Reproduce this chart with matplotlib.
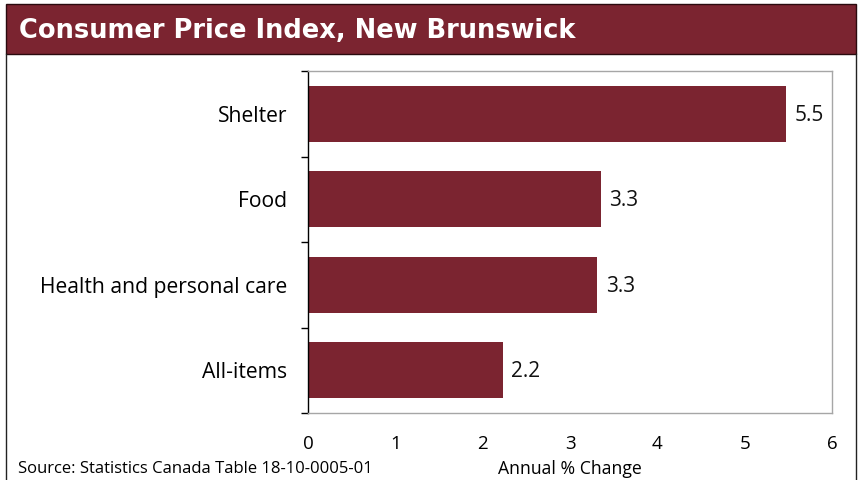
import matplotlib
matplotlib.use("Agg")
import matplotlib.pyplot as plt
from matplotlib.patches import Rectangle
from matplotlib.lines import Line2D

categories = ["All-items", "Health and personal care", "Food", "Shelter"]
values = [2.23, 3.31, 3.35, 5.47]
labels = ["2.2", "3.3", "3.3", "5.5"]
xticks = [0, 1, 2, 3, 4, 5, 6]

BAR = "#7B2430"
plt.rcParams['font.family'] = ['Open Sans', 'DejaVu Sans']

W, H = 858, 480
fig = plt.figure(figsize=(W/100, H/100), dpi=100)

# title band
fig.patches.append(Rectangle((6/W, 1 - 54/H), (856-6)/W, 50/H, transform=fig.transFigure,
                             facecolor=BAR, edgecolor="#2a0a0e", linewidth=1, zorder=0))
# outer border lines
fig.add_artist(Line2D([6/W, 6/W], [0, 1 - 54/H], transform=fig.transFigure, color="#222222", lw=1))
fig.add_artist(Line2D([856/W, 856/W], [0, 1 - 54/H], transform=fig.transFigure, color="#222222", lw=1))
fig.text(19/W, 1 - 31/H, "Consumer Price Index, New Brunswick", color="white",
         fontsize=18.5, fontweight="bold", va="center", ha="left", family="DejaVu Sans")

ax = fig.add_axes([308/W, 1 - 413/H, (832-308)/W, (413-71)/H])
y = list(range(len(categories)))
bars = ax.barh(y, values, height=0.66, color=BAR)
for yi, v, lab in zip(y, values, labels):
    ax.text(v + 0.1, yi - 0.02, lab, va="center", ha="left", fontsize=15, color="#111111")

ax.set_ylim(-0.5, len(categories) - 0.5)
ax.set_xlim(0, 6)
ax.set_xticks(xticks)
ax.set_xticklabels([str(t) for t in xticks], fontsize=13.5)
ax.tick_params(axis="x", length=0, pad=16)
ax.set_yticks(y)
ax.set_yticklabels(categories, fontsize=15.2)
ax.tick_params(axis="y", which="major", length=0, pad=15)
ax.set_yticks([i - 0.5 for i in range(len(categories) + 1)], minor=True)
ax.tick_params(axis="y", which="minor", length=5, width=1, color="black")
for s in ["top", "right", "bottom"]:
    ax.spines[s].set_color("#a6a6a6")
    ax.spines[s].set_linewidth(1)
ax.spines["left"].set_color("black")
ax.spines["left"].set_linewidth(1)

fig.text(18/W, 1 - 469/H, "Source: Statistics Canada Table 18-10-0005-01", fontsize=12,
         va="center", ha="left")
fig.text(570/W, 1 - 469/H, "Annual % Change", fontsize=12.7, va="center", ha="center")

fig.savefig("out.png", dpi=100)
